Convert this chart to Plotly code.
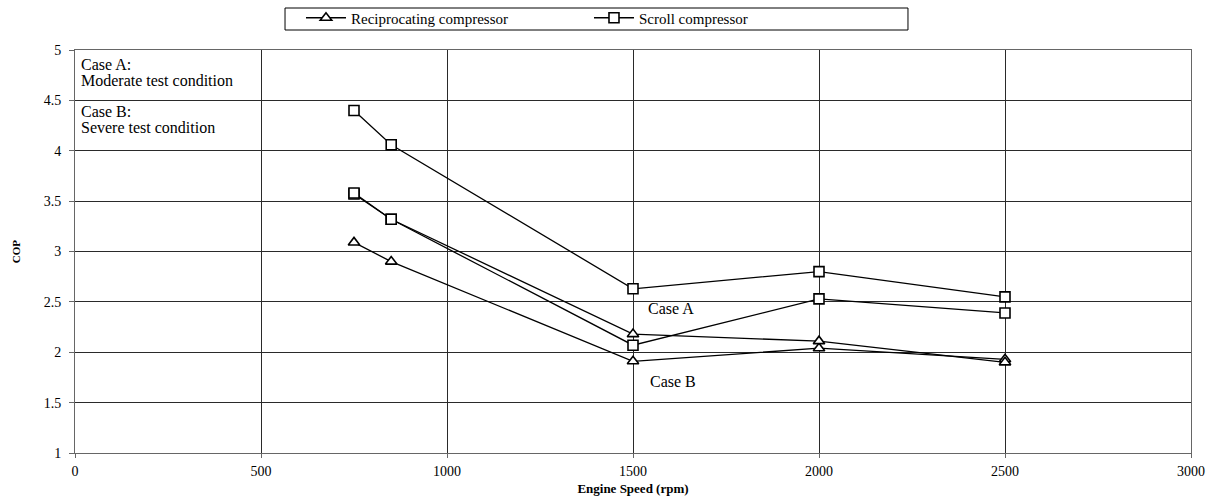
import plotly.graph_objects as go

speed = [750, 850, 1500, 2000, 2500]
scroll_a = [4.40, 4.06, 2.63, 2.80, 2.55]
scroll_b = [3.58, 3.32, 2.07, 2.53, 2.39]
recip_a = [3.57, 3.32, 2.18, 2.11, 1.90]
recip_b = [3.09, 2.90, 1.91, 2.04, 1.93]
recip_a_symbols = ["square", "square", "triangle-up", "triangle-up", "triangle-up"]

FONT = "Liberation Serif"

fig = go.Figure()

def add(y, symbol):
    fig.add_trace(go.Scatter(
        x=speed, y=y, mode="lines+markers", showlegend=False,
        line=dict(color="black", width=1.3),
        marker=dict(symbol=symbol, size=10, color="white",
                    line=dict(color="black", width=1.6)),
    ))

add(recip_b, "triangle-up")
add(recip_a, recip_a_symbols)
add(scroll_b, "square")
add(scroll_a, "square")

# legend entries
fig.add_trace(go.Scatter(x=[None], y=[None], mode="lines+markers", name="Reciprocating compressor",
                         line=dict(color="black", width=1.3),
                         marker=dict(symbol="triangle-up", size=10, color="white",
                                     line=dict(color="black", width=1.6))))
fig.add_trace(go.Scatter(x=[None], y=[None], mode="lines+markers", name="Scroll compressor",
                         line=dict(color="black", width=1.3),
                         marker=dict(symbol="square", size=10, color="white",
                                     line=dict(color="black", width=1.6))))

ann_font = dict(family=FONT, size=16, color="black")
note_lines = ["Case A:", "Moderate test condition", "Case B:", "Severe test condition"]
note_y = [4.86, 4.70, 4.39, 4.23]
for txt, yy in zip(note_lines, note_y):
    fig.add_annotation(x=12, y=yy, xref="x", yref="y", xanchor="left", yanchor="middle",
                       text=txt, showarrow=False, font=ann_font)
fig.add_annotation(x=1535, y=2.43, xref="x", yref="y", xanchor="left", yanchor="middle",
                   text="Case A", showarrow=False, font=ann_font)
fig.add_annotation(x=1540, y=1.71, xref="x", yref="y", xanchor="left", yanchor="middle",
                   text="Case B", showarrow=False, font=ann_font)

# legend frame
fig.add_shape(type="rect", xref="paper", yref="paper", x0=0.1882, x1=0.7464, y0=1.0496, y1=1.1042,
              line=dict(color="black", width=1), fillcolor="rgba(0,0,0,0)")

grid = "#2a2a2a"
fig.update_layout(
    width=1219, height=502,
    margin=dict(l=75, r=28, t=50, b=49, autoexpand=False),
    paper_bgcolor="white", plot_bgcolor="white",
    font=dict(family=FONT, size=14, color="black"),
    legend=dict(orientation="h", x=0.2025, xref="paper", xanchor="left", y=0.997, yref="container",
                yanchor="top", borderwidth=0, bgcolor="rgba(0,0,0,0)",
                font=dict(family=FONT, size=15), entrywidth=233, itemwidth=40,
                tracegroupgap=0),
    xaxis=dict(range=[0, 3000], tickvals=[0, 500, 1000, 1500, 2000, 2500, 3000],
               showgrid=True, gridcolor=grid, gridwidth=1, zeroline=False, automargin=False,
               showline=True, linecolor="#666", mirror=True, ticks="outside", ticklen=4,
               tickcolor="#666", tickfont=dict(family=FONT, size=14), ticklabelstandoff=1,
               title=dict(text="<b>Engine Speed (rpm)</b>", font=dict(family=FONT, size=13), standoff=6)),
    yaxis=dict(range=[1, 5], tickvals=[1, 1.5, 2, 2.5, 3, 3.5, 4, 4.5, 5],
               ticktext=["1", "1.5", "2", "2.5", "3", "3.5", "4", "4.5", "5"],
               showgrid=True, gridcolor=grid, gridwidth=1, zeroline=False, automargin=False,
               showline=True, linecolor="#666", mirror=True, ticks="outside", ticklen=5,
               tickcolor="#666", tickfont=dict(family=FONT, size=14), ticklabelstandoff=5,
               title=dict(text="<b>COP</b>", font=dict(family=FONT, size=11), standoff=20)),
)

fig.write_html("out.html")
